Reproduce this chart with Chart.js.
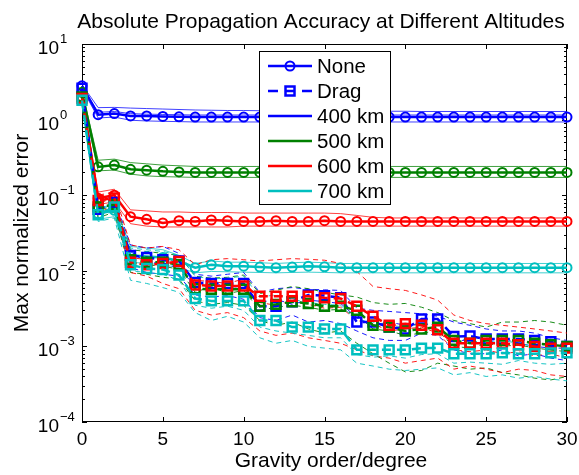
<!DOCTYPE html>
<html>
<head>
<meta charset="utf-8">
<title>Absolute Propagation Accuracy at Different Altitudes</title>
<script src="https://cdn.jsdelivr.net/npm/chart.js@4.4.0/dist/chart.umd.min.js"></script>
<style>
html, body { margin: 0; padding: 0; background: #fff; }
#wrap { width: 579px; height: 475px; }
</style>
</head>
<body>
<div id="wrap"><canvas id="chart" width="579" height="475"></canvas></div>
<script>
// x categories and ticks
const degrees = [0,1,2,3,4,5,6,7,8,9,10,11,12,13,14,15,16,17,18,19,20,21,22,23,24,25,26,27,28,29,30];
const xTickValues = [0,5,10,15,20,25,30];
const yTickExponents = [-4,-3,-2,-1,0,1];
const legendLabels = ['None','Drag','400 km','500 km','600 km','700 km'];

// no perturbation - main line (circles) and the thin runs around it
const none400   = [2.8,1.16,1.2,1.12,1.12,1.1,1.09,1.08,1.08,1.08, 1.08,1.08,1.08,1.08,1.08,1.08,1.08,1.08,1.08,1.08, 1.08,1.08,1.08,1.08,1.08,1.08,1.08,1.08,1.08,1.08,1.08];
const none400Hi = [2.9,1.44,1.45,1.42,1.4,1.38,1.36,1.34,1.33,1.32, 1.32,1.31,1.31,1.3,1.3,1.3,1.3,1.29,1.29,1.29, 1.29,1.28,1.28,1.28,1.28,1.28,1.28,1.28,1.28,1.28,1.28];
const none400Md = [2.75,1.25,1.28,1.2,1.18,1.17,1.16,1.15,1.15,1.15, 1.15,1.15,1.15,1.15,1.15,1.15,1.15,1.15,1.15,1.15, 1.15,1.15,1.15,1.15,1.15,1.15,1.15,1.15,1.15,1.15,1.15];
const none400Lo = [2.6,1.05,1.08,0.98,0.96,0.95,0.94,0.93,0.93,0.93, 0.93,0.93,0.93,0.93,0.93,0.93,0.93,0.93,0.93,0.93, 0.93,0.93,0.93,0.93,0.93,0.93,0.93,0.93,0.93,0.93,0.93];

const none500   = [2.3,0.237,0.25,0.22,0.214,0.207,0.203,0.2,0.2,0.2, 0.2,0.2,0.2,0.2,0.2,0.2,0.2,0.2,0.2,0.2, 0.2,0.2,0.2,0.2,0.2,0.2,0.2,0.2,0.2,0.2,0.2];
const none500Hi = [2.4,0.29,0.3,0.27,0.26,0.25,0.245,0.24,0.24,0.24, 0.24,0.24,0.24,0.24,0.24,0.24,0.24,0.24,0.24,0.24, 0.24,0.24,0.24,0.24,0.24,0.24,0.24,0.24,0.24,0.24,0.24];
const none500Lo = [2.1,0.21,0.215,0.19,0.18,0.176,0.174,0.172,0.172,0.172, 0.172,0.172,0.172,0.172,0.172,0.172,0.172,0.172,0.172,0.172, 0.172,0.172,0.172,0.172,0.172,0.172,0.172,0.172,0.172,0.172,0.172];

const none600   = [2.0,0.091,0.1,0.052,0.048,0.043,0.046,0.045,0.047,0.046, 0.045,0.045,0.046,0.045,0.045,0.046,0.045,0.045,0.045,0.045, 0.045,0.045,0.045,0.045,0.045,0.045,0.045,0.045,0.045,0.045,0.045];
const none600Hi = [2.1,0.11,0.12,0.064,0.062,0.06,0.06,0.059,0.059,0.059, 0.058,0.058,0.058,0.058,0.058,0.058,0.057,0.054,0.051,0.05, 0.05,0.05,0.05,0.05,0.05,0.05,0.05,0.05,0.05,0.05,0.05];
const none600Lo = [1.9,0.075,0.082,0.042,0.039,0.038,0.038,0.038,0.038,0.038, 0.039,0.039,0.039,0.039,0.039,0.039,0.039,0.039,0.039,0.039, 0.039,0.039,0.039,0.039,0.039,0.039,0.039,0.039,0.039,0.039,0.039];

const none700   = [1.83,0.057,0.063,0.016,0.0155,0.015,0.0135,0.011,0.012,0.0115, 0.0115,0.0112,0.011,0.0112,0.0115,0.0113,0.011,0.011,0.011,0.011, 0.011,0.011,0.011,0.011,0.011,0.011,0.011,0.011,0.011,0.011,0.011];
const none700Hi = [1.9,0.068,0.075,0.021,0.02,0.019,0.016,0.0125,0.0135,0.013, 0.013,0.0128,0.0125,0.0128,0.013,0.0128,0.0125,0.0125,0.0125,0.0125, 0.0125,0.0125,0.0125,0.0125,0.0125,0.0125,0.0125,0.0125,0.0125,0.0125,0.0125];
const none700Lo = [1.75,0.048,0.052,0.013,0.0125,0.012,0.011,0.0094,0.0098,0.0097, 0.0096,0.0095,0.0094,0.0095,0.0096,0.0095,0.0094,0.0094,0.0094,0.0094, 0.0094,0.0094,0.0094,0.0094,0.0094,0.0094,0.0094,0.0094,0.0094,0.0094,0.0094];

// drag - main line (squares)
const drag400 = [2.6,0.065,0.08,0.016,0.015,0.014,0.0135,0.007,0.0068,0.0068, 0.0068,0.0034,0.0034,0.0039,0.0048,0.0047,0.0044,0.0021,0.0021,0.0018, 0.0017,0.0023,0.0023,0.00135,0.00137,0.00125,0.00125,0.00125,0.0012,0.00115,0.001];
const drag500 = [2.0,0.07,0.075,0.014,0.013,0.013,0.012,0.0058,0.0057,0.0057, 0.0057,0.0034,0.0036,0.0039,0.0037,0.0034,0.0034,0.003,0.0019,0.0018, 0.0016,0.0017,0.0018,0.0012,0.0011,0.0012,0.0012,0.0012,0.0011,0.00105,0.001];
const drag600 = [1.9,0.085,0.092,0.013,0.012,0.0125,0.0133,0.0065,0.0063,0.0063, 0.0063,0.0046,0.0046,0.0046,0.0046,0.0044,0.0043,0.0034,0.0025,0.0019, 0.002,0.0019,0.00166,0.0011,0.0011,0.0011,0.0011,0.00105,0.001,0.00095,0.00095];
const drag700 = [1.8,0.055,0.07,0.012,0.0107,0.0104,0.0088,0.0043,0.004,0.004, 0.004,0.0022,0.0022,0.0018,0.0018,0.0017,0.0017,0.0009,0.0009,0.0009, 0.0009,0.00095,0.00095,0.0008,0.0008,0.0008,0.00082,0.0008,0.0008,0.00082,0.00082];

// drag - thin dashed runs
const drag400A = [2.6,0.08,0.09,0.022,0.02,0.021,0.017,0.009,0.0085,0.009, 0.0095,0.0052,0.0058,0.006,0.0057,0.0056,0.0055,0.0032,0.003,0.0029, 0.0028,0.0027,0.0025,0.0021,0.0019,0.0017,0.0016,0.0016,0.0015,0.0013,0.0012];
const drag400B = [2.5,0.055,0.065,0.011,0.0095,0.009,0.0085,0.0048,0.0045,0.0047, 0.0042,0.0024,0.0022,0.0026,0.0021,0.0022,0.002,0.0016,0.0013,0.0012, 0.0012,0.0015,0.0014,0.0009,0.0008,0.0008,0.0009,0.00075,0.0008,0.0007,0.00065];
const drag400C = [2.6,0.06,0.07,0.018,0.013,0.0125,0.011,0.0062,0.0075,0.0058, 0.006,0.0038,0.0042,0.0036,0.0041,0.0039,0.0037,0.0024,0.0019,0.0021, 0.0019,0.002,0.0019,0.0012,0.0012,0.0011,0.0013,0.0011,0.001,0.00095,0.00095];

const drag500A = [2.0,0.08,0.085,0.019,0.018,0.017,0.016,0.0085,0.008,0.0082, 0.0088,0.005,0.0055,0.0062,0.0058,0.0052,0.0048,0.0045,0.0038,0.0036, 0.0037,0.0033,0.0028,0.0022,0.002,0.0018,0.0021,0.0021,0.0022,0.0021,0.0019];
const drag500B = [1.9,0.05,0.06,0.0095,0.009,0.0082,0.0078,0.004,0.0036,0.0038, 0.0035,0.0022,0.0019,0.0021,0.0017,0.0015,0.0016,0.0011,0.0008,0.0006, 0.00046,0.00048,0.0006,0.00055,0.0005,0.00052,0.00045,0.00042,0.00038,0.00036,0.0004];
const drag500C = [2.0,0.065,0.07,0.013,0.012,0.0115,0.0105,0.0052,0.0062,0.005, 0.0055,0.003,0.0033,0.0035,0.0033,0.003,0.0031,0.0026,0.0017,0.0016, 0.0014,0.0015,0.0016,0.001,0.00095,0.0011,0.001,0.00105,0.00095,0.0009,0.00085];

const drag600A = [1.9,0.1,0.11,0.022,0.02,0.021,0.019,0.012,0.014,0.0145, 0.014,0.0135,0.014,0.0145,0.0142,0.0138,0.0125,0.0098,0.0062,0.0058, 0.0055,0.0048,0.0041,0.0026,0.0022,0.002,0.0019,0.0018,0.0017,0.0016,0.0015];
const drag600B = [1.8,0.06,0.07,0.0095,0.0085,0.0068,0.0058,0.003,0.0026,0.0028, 0.0024,0.0016,0.0014,0.0015,0.0013,0.0012,0.0011,0.0009,0.00075,0.0007, 0.0006,0.00065,0.0007,0.0005,0.00055,0.0005,0.00045,0.0005,0.00048,0.00042,0.0004];
const drag600C = [1.9,0.08,0.09,0.015,0.014,0.016,0.012,0.0075,0.0072,0.0068, 0.0078,0.0038,0.0035,0.004,0.0036,0.0032,0.0033,0.0022,0.002,0.0016, 0.0017,0.0018,0.0015,0.0009,0.00085,0.0009,0.0008,0.00085,0.00075,0.0008,0.0007];

const drag700A = [1.8,0.065,0.075,0.02,0.019,0.018,0.016,0.0085,0.0078,0.008, 0.0085,0.0045,0.0048,0.0042,0.0038,0.0036,0.0035,0.0022,0.0021,0.0019, 0.0018,0.002,0.0019,0.0013,0.0012,0.0011,0.0012,0.0011,0.001,0.0011,0.001];
const drag700B = [1.7,0.045,0.05,0.0075,0.0068,0.006,0.0052,0.0028,0.0022,0.0025, 0.0021,0.0013,0.0011,0.0012,0.001,0.00095,0.0009,0.0006,0.00055,0.0005, 0.00048,0.0005,0.00052,0.00042,0.00045,0.0004,0.00042,0.00038,0.0004,0.00037,0.00035];
const drag700C = [1.8,0.055,0.06,0.01,0.0095,0.009,0.0075,0.0035,0.0032,0.0034, 0.003,0.0018,0.0016,0.0015,0.0014,0.0013,0.0013,0.00078,0.00072,0.00075, 0.0007,0.00078,0.0008,0.0006,0.00062,0.0006,0.00058,0.00065,0.0006,0.00058,0.0006];

const BLUE = '#0000ff', GREEN = '#008000', RED = '#ff0000', CYAN = '#00bfbf';
const FONT = "'Liberation Sans', Arial, Helvetica, sans-serif";

function toPoints(values) {
    return values.map((v, i) => ({ x: degrees[i], y: v }));
}

function fade(hex, alpha) {
    const n = parseInt(hex.slice(1), 16);
    return `rgba(${(n >> 16) & 255}, ${(n >> 8) & 255}, ${n & 255}, ${alpha})`;
}

function thinSolid(values, color) {
    return { data: toPoints(values), borderColor: fade(color, 0.75), borderWidth: 1, pointRadius: 0, clip: false };
}

function thinDashed(values, color) {
    return { data: toPoints(values), borderColor: fade(color, 0.9), borderWidth: 1, borderDash: [5, 4], pointRadius: 0, clip: false };
}

function mainNone(values, color) {
    return {
        data: toPoints(values), borderColor: color, borderWidth: 2.5,
        pointStyle: 'circle', pointRadius: 4.5, pointBorderWidth: 2,
        pointBorderColor: color, pointBackgroundColor: 'rgba(0,0,0,0)', clip: false
    };
}

function mainDrag(values, color) {
    return {
        data: toPoints(values), borderColor: color, borderWidth: 2.5, borderDash: [9, 6],
        pointStyle: 'rect', pointRadius: 6.3, pointBorderWidth: 2.5,
        pointBorderColor: color, pointBackgroundColor: 'rgba(0,0,0,0)', clip: false
    };
}

// drawing order, bottom first
const datasets = [
    thinSolid(none400Hi, BLUE), thinSolid(none400Md, BLUE), thinSolid(none400Lo, BLUE),
    thinSolid(none500Hi, GREEN), thinSolid(none500Lo, GREEN),
    thinSolid(none600Hi, RED), thinSolid(none600Lo, RED),
    thinSolid(none700Hi, CYAN), thinSolid(none700Lo, CYAN),
    thinDashed(drag400A, BLUE), thinDashed(drag400B, BLUE), thinDashed(drag400C, BLUE),
    thinDashed(drag500A, GREEN), thinDashed(drag500B, GREEN), thinDashed(drag500C, GREEN),
    thinDashed(drag600A, RED), thinDashed(drag600B, RED), thinDashed(drag600C, RED),
    thinDashed(drag700A, CYAN), thinDashed(drag700B, CYAN), thinDashed(drag700C, CYAN),
    mainNone(none400, BLUE), mainNone(none500, GREEN), mainNone(none600, RED), mainNone(none700, CYAN),
    mainDrag(drag400, BLUE), mainDrag(drag500, GREEN), mainDrag(drag600, RED), mainDrag(drag700, CYAN)
];
datasets.forEach((d, i) => { d.order = -i; });

const legendStyles = [
    { color: BLUE, dash: [], marker: 'circle' },
    { color: BLUE, dash: [10, 7], marker: 'rect' },
    { color: BLUE, dash: [] },
    { color: GREEN, dash: [] },
    { color: RED, dash: [] },
    { color: CYAN, dash: [] }
];

const axesDecor = {
    id: 'axesDecor',
    beforeDatasetsDraw(chart) {
        const { ctx, chartArea: a, scales } = chart;
        ctx.save();
        ctx.strokeStyle = '#000';
        ctx.lineWidth = 1;
        ctx.beginPath();
        xTickValues.forEach(v => {
            const px = Math.round(scales.x.getPixelForValue(v)) + 0.5;
            ctx.moveTo(px, a.bottom); ctx.lineTo(px, a.bottom - 5);
            ctx.moveTo(px, a.top); ctx.lineTo(px, a.top + 5);
        });
        yTickExponents.forEach((e, i) => {
            const py = Math.round(scales.y.getPixelForValue(Math.pow(10, e))) + 0.5;
            ctx.moveTo(a.left, py); ctx.lineTo(a.left + 5, py);
            ctx.moveTo(a.right, py); ctx.lineTo(a.right - 5, py);
            if (i === yTickExponents.length - 1) return;
            for (let m = 2; m <= 9; m++) {
                const pm = Math.round(scales.y.getPixelForValue(m * Math.pow(10, e))) + 0.5;
                ctx.moveTo(a.left, pm); ctx.lineTo(a.left + 3, pm);
                ctx.moveTo(a.right, pm); ctx.lineTo(a.right - 3, pm);
            }
        });
        ctx.stroke();
        ctx.strokeRect(a.left + 0.5, a.top + 0.5, a.right - a.left - 1, a.bottom - a.top - 1);
        ctx.restore();
    },
    afterDraw(chart) {
        const { ctx, chartArea: a, scales } = chart;
        ctx.save();
        ctx.fillStyle = '#000';

        // x tick labels
        ctx.font = `19px ${FONT}`;
        ctx.textAlign = 'center';
        ctx.textBaseline = 'alphabetic';
        xTickValues.forEach(v => {
            ctx.fillText(String(v), scales.x.getPixelForValue(v), 445);
        });

        // y tick labels 10^n
        yTickExponents.forEach(e => {
            const py = scales.y.getPixelForValue(Math.pow(10, e));
            ctx.font = `19px ${FONT}`;
            ctx.textAlign = 'right';
            ctx.fillText('10', 59, py + 10);
            ctx.font = `13px ${FONT}`;
            ctx.textAlign = 'left';
            ctx.fillText(e < 0 ? '\u2212' + Math.abs(e) : String(e), 60, py - 1);
        });

        // titles
        ctx.font = `21px ${FONT}`;
        ctx.textAlign = 'center';
        ctx.fillText('Absolute Propagation Accuracy at Different Altitudes', 321, 28);
        ctx.fillText('Gravity order/degree', 331, 467);
        ctx.save();
        ctx.translate(28, (a.top + a.bottom) / 2);
        ctx.rotate(-Math.PI / 2);
        ctx.fillText('Max normalized error', 0, 0);
        ctx.restore();

        // legend
        const L = 259.5, T = 51.5, W = 131, H = 153;
        ctx.fillStyle = '#fff';
        ctx.fillRect(L, T, W, H);
        ctx.strokeStyle = '#000';
        ctx.lineWidth = 1;
        ctx.strokeRect(L, T, W, H);
        legendLabels.forEach((label, i) => {
            const st = legendStyles[i];
            const yy = 66 + i * 25;
            ctx.save();
            ctx.strokeStyle = st.color;
            ctx.lineWidth = 2.5;
            ctx.setLineDash(st.dash);
            ctx.beginPath();
            ctx.moveTo(268, yy); ctx.lineTo(312, yy);
            ctx.stroke();
            ctx.setLineDash([]);
            if (st.marker === 'circle') {
                ctx.lineWidth = 2;
                ctx.beginPath();
                ctx.arc(290, yy, 4.5, 0, Math.PI * 2);
                ctx.stroke();
            } else if (st.marker === 'rect') {
                ctx.lineWidth = 2.5;
                ctx.strokeRect(285.5, yy - 4.5, 9, 9);
            }
            ctx.restore();
            ctx.fillStyle = '#000';
            ctx.font = `20.5px ${FONT}`;
            ctx.textAlign = 'left';
            ctx.textBaseline = 'middle';
            ctx.fillText(label, 317, yy + 1);
        });
        ctx.restore();
    }
};

new Chart(document.getElementById('chart'), {
    type: 'line',
    data: { datasets: datasets },
    options: {
        responsive: false,
        animation: false,
        devicePixelRatio: 1,
        events: [],
        layout: { padding: { top: 44, right: 12, left: 0, bottom: 0 } },
        plugins: { legend: { display: false }, tooltip: { enabled: false }, title: { display: false } },
        scales: {
            x: {
                type: 'linear', min: 0, max: 30,
                grid: { display: false }, border: { display: false },
                ticks: { display: false },
                afterFit(scale) { scale.height = 53; }
            },
            y: {
                type: 'logarithmic', min: 1e-4, max: 10,
                grid: { display: false }, border: { display: false },
                ticks: { display: false },
                afterFit(scale) { scale.width = 82; }
            }
        }
    },
    plugins: [axesDecor]
});
</script>
</body>
</html>
